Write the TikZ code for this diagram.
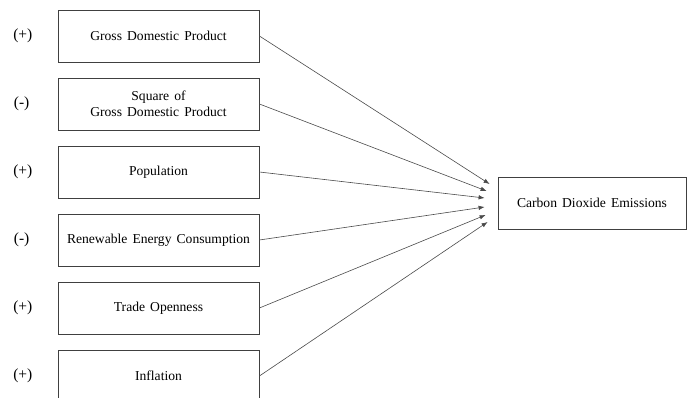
\documentclass[tikz,border=0pt]{standalone}
\usepackage{fontspec}
\setmainfont[WordSpace=1.5]{Liberation Serif}
\usetikzlibrary{positioning,arrows.meta}
\definecolor{boxline}{HTML}{404040}
\definecolor{arrline}{HTML}{4A4A4A}
\tikzset{
  factor/.style ={draw=boxline, line width=0.8pt, minimum width=201pt, minimum height=52pt,
                  align=center, font=\fontsize{13.6}{16}\selectfont, inner sep=2pt},
  outcome/.style={draw=boxline, line width=0.8pt, minimum width=188pt, minimum height=52pt,
                  align=center, font=\fontsize{13.6}{16}\selectfont, inner sep=2pt},
  sign/.style   ={font=\fontsize{15.5}{17}\selectfont, inner sep=1pt},
  effect/.style ={-{Latex[length=6pt,width=4.5pt]}, draw=arrline, line width=0.6pt},
}

\begin{document}
\begin{tikzpicture}[x=1pt, y=-1pt, node distance=15.2pt]
\useasboundingbox (0,0) rectangle (688,398);
\clip (0,0) rectangle (688,398);

% ---- determinants
\node[factor] (gdp) at (158.5,36) {Gross Domestic Product};
\node[factor, below=of gdp] (gdpsq) {Square of\\Gross Domestic Product};
\node[factor, below=of gdpsq] (pop) {Population};
\node[factor, below=of pop] (rec) {Renewable Energy Consumption};
\node[factor, below=of rec] (trade) {Trade Openness};
\node[factor, below=of trade] (infl) {Inflation};

% ---- expected signs
\node[sign, left=24pt of gdp] (sgdp) {(+)};
\node[sign, left=27pt of gdpsq] (sgdpsq) {(-)};
\node[sign, left=24pt of pop] (spop) {(+)};
\node[sign, left=27pt of rec] (srec) {(-)};
\node[sign, left=24pt of trade] (strade) {(+)};
\node[sign, left=24pt of infl] (sinfl) {(+)};

% ---- dependent variable
\node[outcome] (co2) at (592,203) {Carbon Dioxide Emissions};

% ---- arrow targets
\coordinate (t1) at ([xshift=-8pt, yshift=19pt]co2.west);
\coordinate (t2) at ([xshift=-11pt, yshift=12pt]co2.west);
\coordinate (t3) at ([xshift=-13pt, yshift=5pt]co2.west);
\coordinate (t4) at ([xshift=-13pt, yshift=-4pt]co2.west);
\coordinate (t5) at ([xshift=-12pt, yshift=-12pt]co2.west);
\coordinate (t6) at ([xshift=-10pt, yshift=-19pt]co2.west);

\draw[effect] (gdp.east) -- (t1);
\draw[effect] (gdpsq.east) -- (t2);
\draw[effect] (pop.east) -- (t3);
\draw[effect] (rec.east) -- (t4);
\draw[effect] (trade.east) -- (t5);
\draw[effect] (infl.east) -- (t6);
\end{tikzpicture}
\end{document}
